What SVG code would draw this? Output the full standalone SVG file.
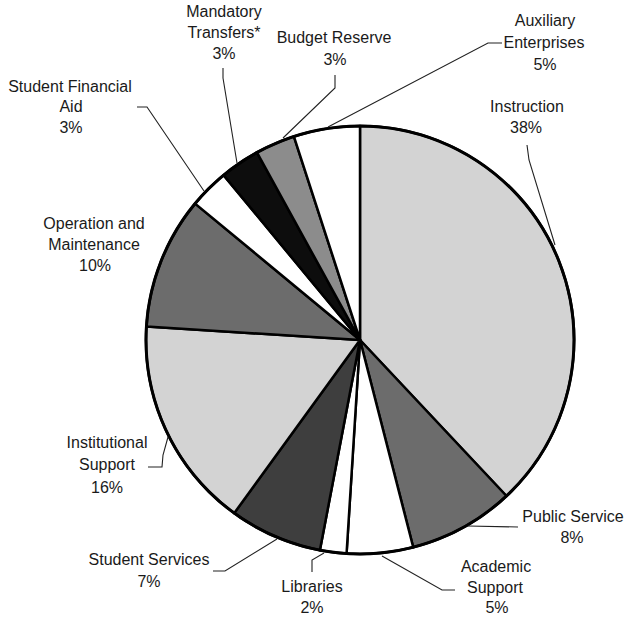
<svg xmlns="http://www.w3.org/2000/svg" width="628" height="621" viewBox="0 0 628 621">
<style>
.lbl{font-family:"Liberation Sans",Arial,sans-serif;font-size:16px;fill:#1a1a1a;text-anchor:middle}
.slice{stroke:#000;stroke-width:2.5;stroke-linejoin:round}
.leader{fill:none;stroke:#222;stroke-width:1.1}
.light{fill:#d3d3d3}
.mid{fill:#6c6c6c}
.dark{fill:#3e3e3e}
.med{fill:#8c8c8c}
.blk{fill:#0d0d0d}
.wht{fill:#fff}
</style>
<rect width="628" height="621" fill="#fff"/>
<g id="pie">
<g id="instruction"><path class="slice light" d="M360,340 L360,126 A214,214 0 0 1 506.49,496.0 Z"/></g>
<g id="public-service"><path class="slice mid" d="M360,340 L506.49,496.0 A214,214 0 0 1 413.22,547.28 Z"/></g>
<g id="academic-support"><path class="slice wht" d="M360,340 L413.22,547.28 A214,214 0 0 1 346.56,553.58 Z"/></g>
<g id="libraries"><path class="slice wht" d="M360,340 L346.56,553.58 A214,214 0 0 1 319.90,550.21 Z"/></g>
<g id="student-services"><path class="slice dark" d="M360,340 L319.90,550.21 A214,214 0 0 1 234.21,513.13 Z"/></g>
<g id="institutional-support"><path class="slice light" d="M360,340 L234.21,513.13 A214,214 0 0 1 146.42,326.56 Z"/></g>
<g id="operation-maintenance"><path class="slice mid" d="M360,340 L146.42,326.56 A214,214 0 0 1 195.11,203.59 Z"/></g>
<g id="student-financial-aid"><path class="slice wht" d="M360,340 L195.11,203.59 A214,214 0 0 1 223.59,175.11 Z"/></g>
<g id="mandatory-transfers"><path class="slice blk" d="M360,340 L223.59,175.11 A214,214 0 0 1 256.91,152.47 Z"/></g>
<g id="budget-reserve"><path class="slice med" d="M360,340 L256.91,152.47 A214,214 0 0 1 293.87,136.47 Z"/></g>
<g id="auxiliary-enterprises"><path class="slice wht" d="M360,340 L293.87,136.47 A214,214 0 0 1 360,126 Z"/></g>
<circle cx="360" cy="340" r="214" fill="none" stroke="#000" stroke-width="3"/>
</g>
<g id="connectors">
<polyline class="leader" points="527,145 529,160 555,245"/>
<polyline class="leader" points="502,43 488,43 328,127"/>
<polyline class="leader" points="335,75 335,88 283,138"/>
<polyline class="leader" points="223,68 223,78 237,163"/>
<polyline class="leader" points="137,107 147,107 204,191"/>
<polyline class="leader" points="148,467 162,467 163,455 168,437"/>
<polyline class="leader" points="213,571 225,571 277,539"/>
<polyline class="leader" points="312,572 312,560 324,553"/>
<polyline class="leader" points="455,590 442,590 382,556"/>
<polyline class="leader" points="468,526 518,527"/>
</g>
<g id="labels">
<g id="lbl-mandatory"><text class="lbl" x="224" y="17">Mandatory</text><text class="lbl" x="224" y="38">Transfers*</text><text class="lbl" x="224" y="59">3%</text></g>
<g id="lbl-budget"><text class="lbl" x="334" y="43">Budget Reserve</text><text class="lbl" x="335" y="65">3%</text></g>
<g id="lbl-aux"><text class="lbl" x="545" y="26">Auxiliary</text><text class="lbl" x="544" y="48">Enterprises</text><text class="lbl" x="545" y="70">5%</text></g>
<g id="lbl-instruction"><text class="lbl" x="527" y="112">Instruction</text><text class="lbl" x="526" y="133">38%</text></g>
<g id="lbl-sfa"><text class="lbl" x="70" y="92">Student Financial</text><text class="lbl" x="71" y="112">Aid</text><text class="lbl" x="71" y="133">3%</text></g>
<g id="lbl-om"><text class="lbl" x="94" y="229">Operation and</text><text class="lbl" x="94" y="250">Maintenance</text><text class="lbl" x="95" y="271">10%</text></g>
<g id="lbl-inst"><text class="lbl" x="107" y="448">Institutional</text><text class="lbl" x="107" y="470">Support</text><text class="lbl" x="107" y="493">16%</text></g>
<g id="lbl-ss"><text class="lbl" x="149" y="565">Student Services</text><text class="lbl" x="149" y="587">7%</text></g>
<g id="lbl-lib"><text class="lbl" x="312" y="592">Libraries</text><text class="lbl" x="312" y="613">2%</text></g>
<g id="lbl-acad"><text class="lbl" x="496" y="572">Academic</text><text class="lbl" x="495" y="593">Support</text><text class="lbl" x="497" y="613">5%</text></g>
<g id="lbl-ps"><text class="lbl" x="573" y="522">Public Service</text><text class="lbl" x="572" y="543">8%</text></g>
</g>
</svg>
